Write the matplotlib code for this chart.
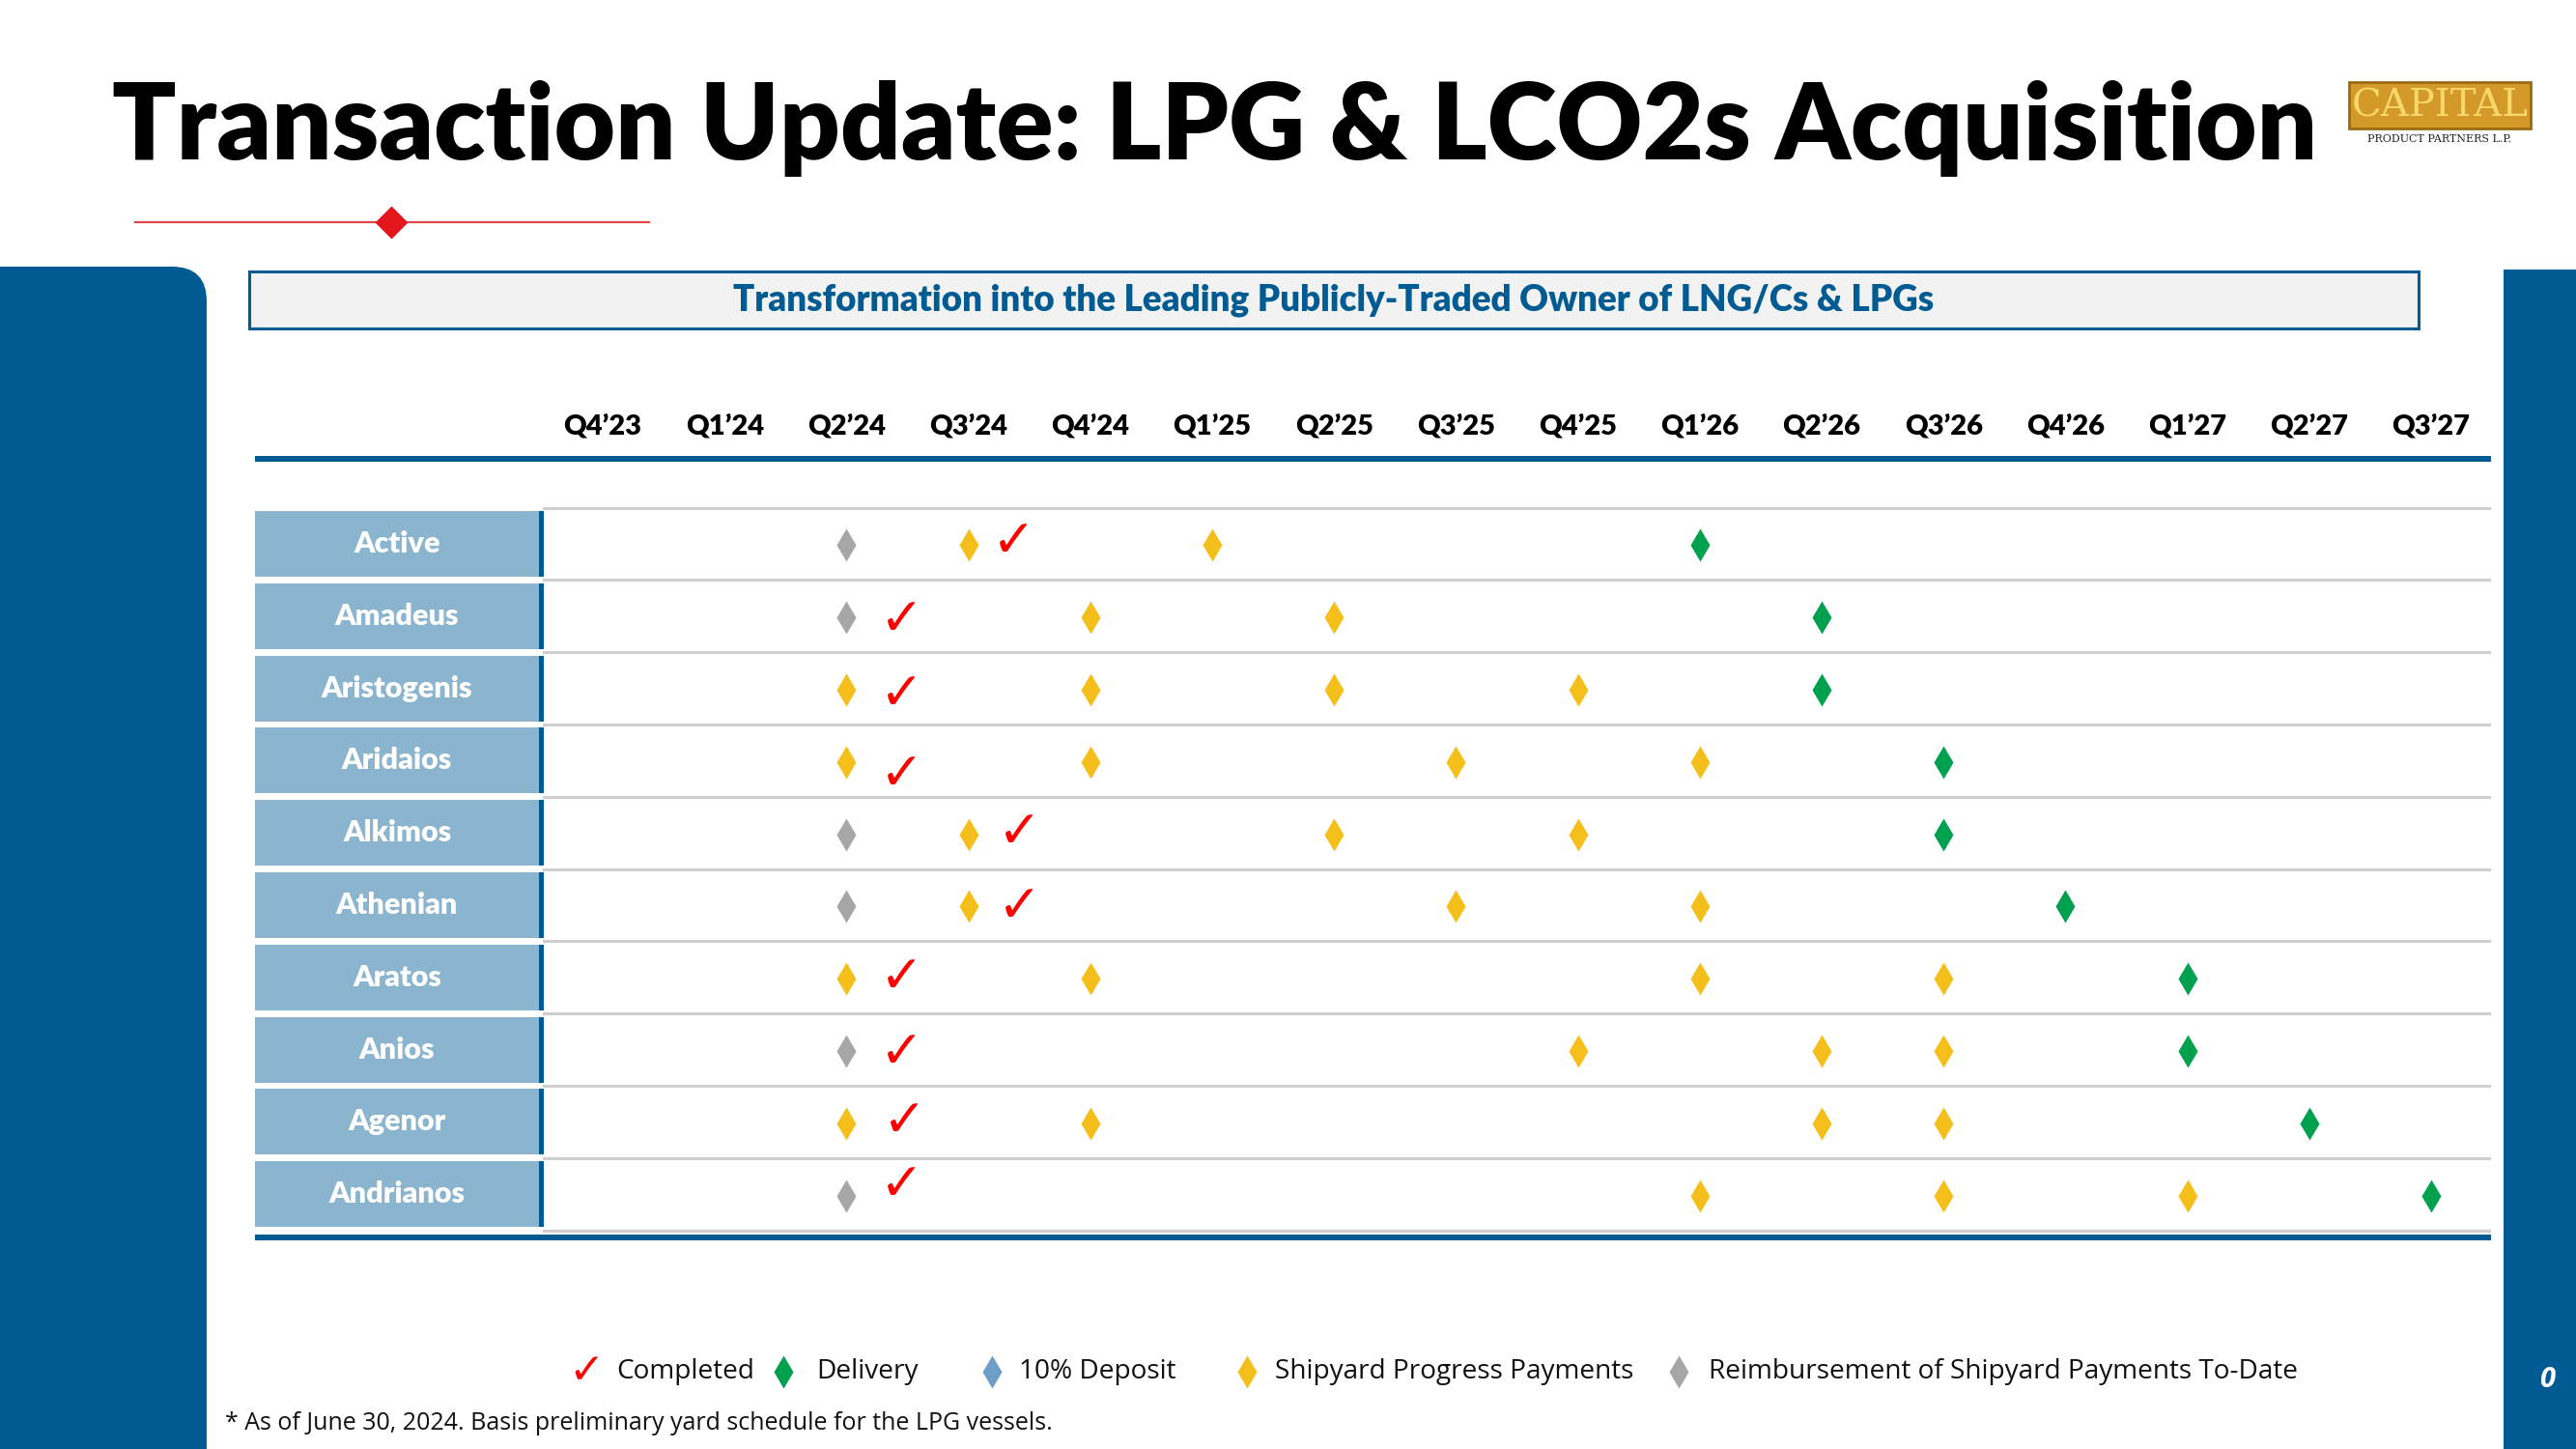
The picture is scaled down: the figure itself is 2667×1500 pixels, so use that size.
import matplotlib.pyplot as plt
from matplotlib.patches import FancyBboxPatch, Rectangle

# ---------------- data ----------------
quarters = ["Q4’23", "Q1’24", "Q2’24", "Q3’24", "Q4’24", "Q1’25", "Q2’25", "Q3’25",
            "Q4’25", "Q1’26", "Q2’26", "Q3’26", "Q4’26", "Q1’27", "Q2’27", "Q3’27"]
vessels = ["Active", "Amadeus", "Aristogenis", "Aridaios", "Alkimos",
           "Athenian", "Aratos", "Anios", "Agenor", "Andrianos"]

# quarter index per vessel for each milestone type
reimbursement = [[2], [2], [], [], [2], [2], [], [2], [], [2]]
progress = [[3, 5], [4, 6], [2, 4, 6, 8], [2, 4, 7, 9], [3, 6, 8], [3, 7, 9],
            [2, 4, 9, 11], [8, 10, 11], [2, 4, 10, 11], [9, 11, 13]]
delivery = [9, 10, 10, 11, 11, 12, 13, 13, 14, 15]
# completed tick (quarter position, slight vertical offset in rows)
completed_x = [3.37, 2.45, 2.45, 2.45, 3.42, 3.42, 2.45, 2.45, 2.48, 2.45]
completed_dy = [-0.03, 0.06, 0.08, 0.2, 0.0, 0.03, 0.0, 0.05, 0.0, -0.12]

legend_labels = ["Completed", "Delivery", "10% Deposit", "Shipyard Progress Payments",
                 "Reimbursement of Shipyard Payments To-Date"]

BLUE = "#005B92"
YELLOW = "#F5BF1B"
GREEN = "#00A14E"
GRAY = "#A6A6A6"
LBLUE = "#6E9DC5"
BOX = "#8BB4CE"
RED = "#FF0000"

W, H = 2667, 1500
fig = plt.figure(figsize=(W / 100, H / 100), dpi=100)

# background / decoration axes in pixel coords
bg = fig.add_axes([0, 0, 1, 1])
bg.set_xlim(0, W)
bg.set_ylim(H, 0)
bg.axis("off")

bg.add_patch(FancyBboxPatch((-200, 276), 414, 1400, boxstyle="round,pad=0,rounding_size=36",
                            fc=BLUE, ec="none"))
bg.add_patch(Rectangle((2592, 279), 80, 1230, fc=BLUE, ec="none"))
bg.text(2637, 1428, "0", color="white", fontsize=21, fontweight="bold", style="italic",
        ha="center", va="center", family="Open Sans")

bg.text(1258, 133, "Transaction Update: LPG & LCO2s Acquisition", fontsize=78.8,
        fontweight="heavy", family="Lato", ha="center", va="center", color="black")
bg.plot([140, 672], [230, 230], color="#E04848", lw=1.6)
bg.plot([405], [230], marker="D", ms=17, color="#E3161E", mec="none")

# logo
bg.add_patch(Rectangle((2432, 85), 188, 48, fc="#D39A2A", ec="#9C6A12", lw=2))
bg.text(2526, 110, "CAPITAL", fontsize=29, family="DejaVu Serif", color="#F8D86A",
        ha="center", va="center")
bg.text(2526, 144, "PRODUCT PARTNERS L.P.", fontsize=8, family="DejaVu Serif",
        color="#222222", ha="center", va="center")

# header box
bg.add_patch(Rectangle((258, 281), 2246, 59, fc="#F2F2F2", ec=BLUE, lw=2.2))
bg.text(1381, 311, "Transformation into the Leading Publicly-Traded Owner of LNG/Cs & LPGs",
        fontsize=26.5, fontweight="heavy", family="Lato", color=BLUE, ha="center", va="center")

bg.plot([264, 2579], [475, 475], color=BLUE, lw=4.3, solid_capstyle="butt")
bg.plot([264, 2579], [1281, 1281], color=BLUE, lw=4.3, solid_capstyle="butt")

# chart axes: x = quarter index, y = vessel index
x0, x1 = 264, 2579
y0, y1 = 475, 1281
ax = fig.add_axes([x0 / W, 1 - y1 / H, (x1 - x0) / W, (y1 - y0) / H])
ax.set_xlim((x0 - 624) / 126.2, (x1 - 624) / 126.2)
ax.set_ylim((y1 - 563) / 74.8, (y0 - 563) / 74.8)
ax.axis("off")

for i, q in enumerate(quarters):
    ax.text(i, -1.62, q, fontsize=21, fontweight="heavy", family="Lato",
            ha="center", va="center", clip_on=False)

xr = ax.get_xlim()[1]
for k in range(len(vessels) + 1):
    ax.plot([-0.48, xr], [k - 0.5, k - 0.5], color="#CFCFCF", lw=2.2, zorder=1)

for r, name in enumerate(vessels):
    ax.add_patch(Rectangle((-2.853, r - 0.455), 2.33, 0.91, fc=BOX, ec="none", zorder=2))
    ax.add_patch(Rectangle((-0.523, r - 0.455), 0.04, 0.91, fc=BLUE, ec="none", zorder=2))
    ax.text(-1.688, r, name, color="white", fontsize=22, fontweight="heavy", family="Lato",
            ha="center", va="center", zorder=3)

    ax.plot(reimbursement[r], [r + 0.02] * len(reimbursement[r]), "d", ms=17, color=GRAY,
            mec="none", zorder=4)
    ax.plot(progress[r], [r + 0.02] * len(progress[r]), "d", ms=17, color=YELLOW,
            mec="none", zorder=4)
    ax.plot([delivery[r]], [r + 0.02], "d", ms=17, color=GREEN, mec="none", zorder=4)
    ax.text(completed_x[r], r + completed_dy[r], "✓", color=RED, fontsize=39,
            fontweight="bold", family="DejaVu Sans", ha="center", va="center", zorder=5)

# legend
ly = 1420
bg.text(607, ly, "✓", color=RED, fontsize=32, fontweight="bold", family="DejaVu Sans",
        ha="center", va="center")
bg.plot([811], [ly], "d", ms=17, color=GREEN, mec="none")
bg.plot([1027], [ly], "d", ms=17, color=LBLUE, mec="none")
bg.plot([1291], [ly], "d", ms=17, color=YELLOW, mec="none")
bg.plot([1738], [ly], "d", ms=17, color=GRAY, mec="none")
for xt, lab in zip([638, 845, 1055, 1320, 1769], legend_labels):
    bg.text(xt, ly, lab, fontsize=20.2, family="Open Sans", ha="left", va="center", color="#111111")

bg.text(233, 1473, "* As of June 30, 2024. Basis preliminary yard schedule for the LPG vessels.",
        fontsize=18, family="Open Sans", ha="left", va="center", color="#111111")

fig.savefig("out.png", dpi=100)
